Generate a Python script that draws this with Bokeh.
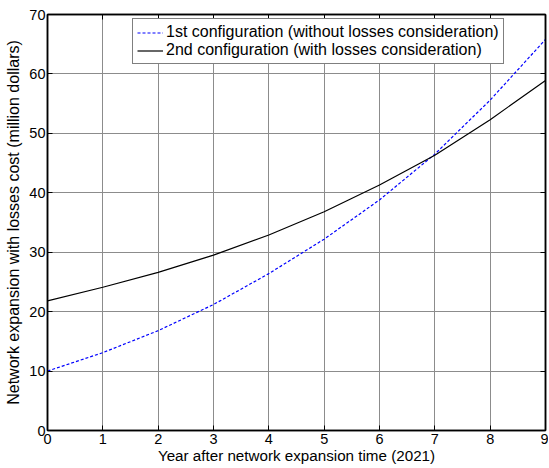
from bokeh.plotting import figure
from bokeh.models import LinearAxis, FixedTicker, Range1d, Legend, LegendItem, CustomLabelingPolicy
from bokeh.embed import file_html
from bokeh.resources import INLINE

years = [0, 1, 2, 3, 4, 5, 6, 7, 8, 9]
cost_cfg1 = [10.0, 13.1, 16.8, 21.2, 26.4, 32.2, 38.8, 46.5, 55.6, 65.8]
cost_cfg2 = [21.8, 24.1, 26.6, 29.5, 32.9, 36.8, 41.3, 46.3, 52.3, 58.9]
label_cfg1 = "1st configuration (without losses consideration)"
label_cfg2 = "2nd configuration (with losses consideration)"
x_ticks = list(range(0, 10))
y_ticks = list(range(0, 80, 10))

FONT = "Liberation Sans"

p = figure(width=548, height=467, output_backend="svg", toolbar_location=None,
           x_range=Range1d(0, 9), y_range=Range1d(0, 70),
           min_border_left=47, min_border_right=3, min_border_top=14, min_border_bottom=37)
p.background_fill_color = "white"
p.border_fill_color = "white"
p.outline_line_color = "black"
p.outline_line_width = 1.5

for ax in (p.xaxis[0], p.yaxis[0]):
    ax.major_tick_in = 5
    ax.major_tick_out = 0
    ax.minor_tick_in = 0
    ax.minor_tick_out = 0
    ax.axis_line_width = 1.5
    ax.major_label_text_font = FONT
    ax.major_label_text_font_size = "14.5px"
    ax.major_label_text_color = "black"
    ax.axis_label_text_font = FONT
    ax.axis_label_text_font_style = "normal"
    ax.axis_label_text_color = "black"

p.xaxis[0].axis_label_text_font_size = "15.2px"
p.yaxis[0].axis_label_text_font_size = "16px"
p.xaxis[0].ticker = FixedTicker(ticks=x_ticks)
p.yaxis[0].ticker = FixedTicker(ticks=y_ticks)
p.xaxis[0].axis_label = "Year after network expansion time (2021)"
p.yaxis[0].axis_label = "Network expansion with losses cost (million dollars)"
p.xaxis[0].major_label_standoff = 3
p.xaxis[0].axis_label_standoff = 0
p.yaxis[0].major_label_standoff = 2
p.yaxis[0].axis_label_standoff = 4

no_labels = CustomLabelingPolicy(code="""
for (const i of Array.from(indices)) { indices.unset(i) }
return indices
""")

for loc, ticks in (("right", y_ticks), ("above", x_ticks)):
    ax = LinearAxis(ticker=FixedTicker(ticks=ticks), major_label_policy=no_labels)
    ax.major_tick_in = 5
    ax.major_tick_out = 0
    ax.minor_tick_in = 0
    ax.minor_tick_out = 0
    ax.major_label_text_font_size = "0px"
    ax.major_label_standoff = 0
    ax.axis_label_standoff = 0
    ax.axis_line_width = 1.5
    p.add_layout(ax, loc)

p.xgrid.ticker = FixedTicker(ticks=x_ticks)
p.ygrid.ticker = FixedTicker(ticks=y_ticks)
p.grid.grid_line_color = "#8c8c8c"
p.grid.grid_line_width = 1

r1 = p.line(years, cost_cfg1, line_color="#0000ff", line_width=1.2, line_dash="3 2")
r2 = p.line(years, cost_cfg2, line_color="black", line_width=1.2)

legend = Legend(items=[LegendItem(label=label_cfg1, renderers=[r1]),
                       LegendItem(label=label_cfg2, renderers=[r2])],
                location=(85, 366))
legend.label_text_font = FONT
legend.label_text_font_size = "16px"
legend.label_text_color = "black"
legend.border_line_color = "black"
legend.border_line_width = 1.2
legend.background_fill_alpha = 1
legend.padding = 4
legend.spacing = 0
legend.margin = 0
legend.label_height = 17
legend.glyph_height = 17
legend.glyph_width = 26
legend.label_standoff = 3
p.add_layout(legend, "center")

open("out.html", "w").write(file_html(p, INLINE))
